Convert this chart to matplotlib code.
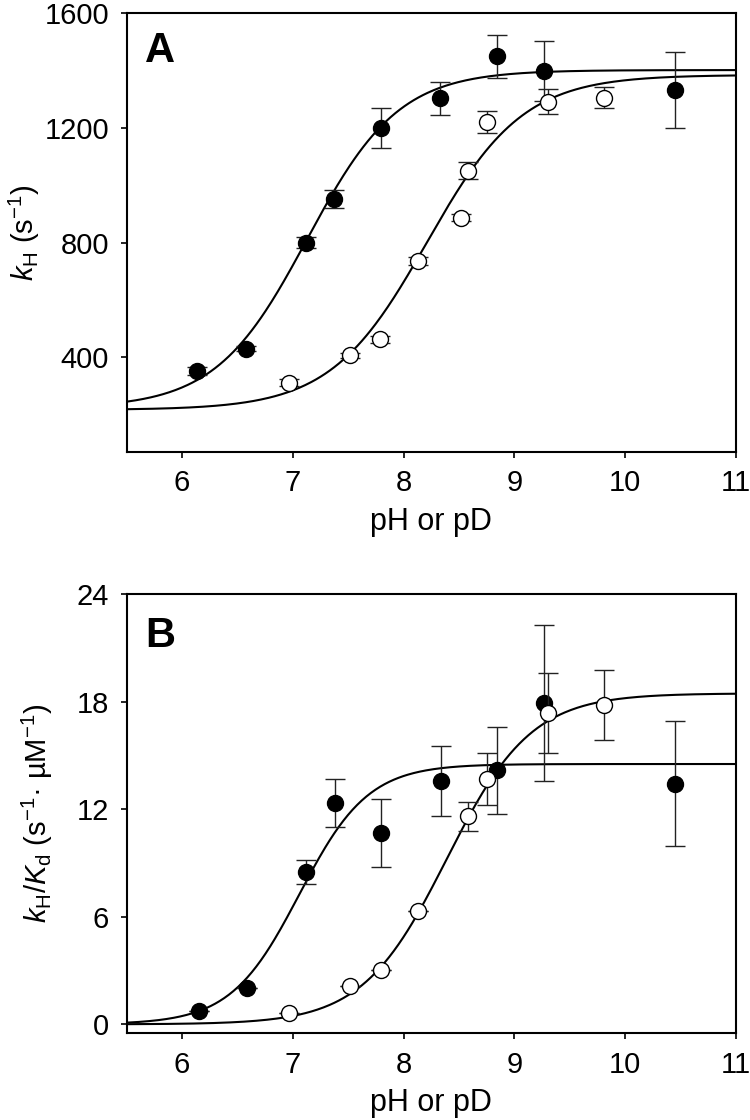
import numpy as np
from matplotlib import pyplot as plt
import matplotlib

matplotlib.rcParams['font.family'] = ['Liberation Sans', 'DejaVu Sans']
matplotlib.rcParams['mathtext.fontset'] = 'custom'
matplotlib.rcParams['mathtext.rm'] = 'Liberation Sans'
matplotlib.rcParams['mathtext.it'] = 'Liberation Sans:italic'

# panel A, k_H (s^-1)
a_ph_filled = [6.14, 6.58, 7.12, 7.37, 7.80, 8.33, 8.84, 9.27, 10.45]
a_k_filled = [352, 430, 800, 952, 1200, 1303, 1450, 1400, 1332]
a_err_filled = [14, 10, 20, 30, 70, 58, 76, 105, 133]

a_ph_open = [6.97, 7.52, 7.79, 8.13, 8.52, 8.58, 8.75, 9.30, 9.81]
a_k_open = [311, 406, 462, 736, 886, 1051, 1222, 1292, 1306]
a_err_open = [12, 8, 12, 15, 12, 29, 38, 45, 38]

# fit params (lo, hi, pKa, n)
a_fit_filled = [222, 1402, 7.13, 1.05]
a_fit_open = [216, 1385, 8.21, 1.0]

# panel B, k_H/K_d
b_ph_filled = [6.15, 6.59, 7.12, 7.38, 7.80, 8.34, 8.84, 9.27, 10.45]
b_k_filled = [0.74, 2.0, 8.5, 12.33, 10.68, 13.56, 14.16, 17.94, 13.42]
b_err_filled = [0, 0, 0.67, 1.35, 1.9, 1.95, 2.4, 4.35, 3.5]

b_ph_open = [6.97, 7.52, 7.80, 8.13, 8.58, 8.75, 9.30, 9.81]
b_k_open = [0.64, 2.15, 3.04, 6.3, 11.6, 13.68, 17.36, 17.8]
b_err_open = [0, 0, 0, 0, 0.8, 1.47, 2.24, 1.95]

b_fit_filled = [0.0, 14.52, 7.06, 1.4]
b_fit_open = [0.0, 18.46, 8.39, 1.14]


def sigmoid(ph, p):
    lo, hi, pka, n = p
    f = 10 ** (n * (ph - pka))
    return (lo + hi * f) / (1 + f)


ph = np.linspace(5.5, 11, 400)

fig = plt.figure(figsize=(7.5, 11.2), dpi=100)
ax1 = fig.add_axes([0.1687, 0.5967, 0.8127, 0.3914])
ax2 = fig.add_axes([0.1687, 0.0774, 0.8127, 0.3922])

panels = [
    (ax1, a_ph_filled, a_k_filled, a_err_filled, a_ph_open, a_k_open, a_err_open, a_fit_filled, a_fit_open),
    (ax2, b_ph_filled, b_k_filled, b_err_filled, b_ph_open, b_k_open, b_err_open, b_fit_filled, b_fit_open),
]

for ax, xf, yf, ef, xo, yo, eo, pf, po in panels:
    ax.plot(ph, sigmoid(ph, pf), color='black', lw=1.5, zorder=2)
    ax.plot(ph, sigmoid(ph, po), color='black', lw=1.5, zorder=2)
    ax.errorbar(xf, yf, yerr=ef, fmt='o', ms=11.5, mfc='black', mec='black',
                ecolor='#222222', elinewidth=1, capsize=7, capthick=1, zorder=3)
    ax.errorbar(xo, yo, yerr=eo, fmt='o', ms=11.5, mfc='white', mec='black', mew=1,
                ecolor='#222222', elinewidth=1, capsize=7, capthick=1, zorder=4)
    ax.set_xlim(5.5, 11)
    ax.set_xticks(range(6, 12))
    ax.tick_params(direction='out', length=4.5, width=1.2, labelsize=21, pad=8,
                   top=False, right=False)
    for s in ax.spines.values():
        s.set_linewidth(1.5)
    ax.set_xlabel('pH or pD', fontsize=22, labelpad=7)

ax1.set_ylim(70, 1600)
ax1.set_yticks([400, 800, 1200, 1600])
ax1.set_ylabel(r'$k_\mathrm{H}$ (s$^{-1}$)', fontsize=21, labelpad=2)
ax1.text(0.03, 0.96, 'A', transform=ax1.transAxes, fontsize=30, fontweight='bold',
         va='top', ha='left')

ax2.set_ylim(-0.5, 24)
ax2.set_yticks([0, 6, 12, 18, 24])
ax2.set_ylabel(r'$k_\mathrm{H}/K_\mathrm{d}$ (s$^{-1}$· µM$^{-1}$)', fontsize=21, labelpad=16)
ax2.text(0.03, 0.95, 'B', transform=ax2.transAxes, fontsize=30, fontweight='bold',
         va='top', ha='left')

plt.savefig('out.png', dpi=100)
